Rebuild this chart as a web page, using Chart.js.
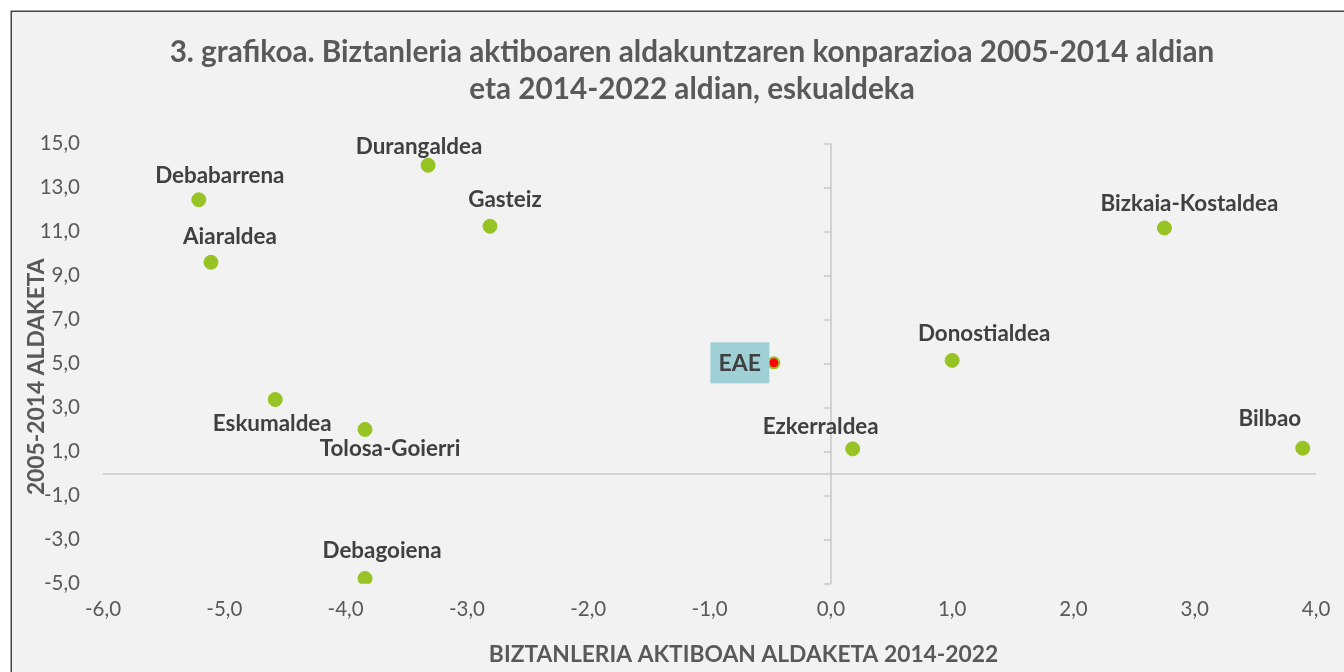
<!DOCTYPE html>
<html><head><meta charset="utf-8">
<script src="https://cdn.jsdelivr.net/npm/chart.js@4.4.0/dist/chart.umd.min.js"></script>
<style>html,body{margin:0;padding:0;background:#fff;overflow:hidden}#wrap{width:1344px;height:672px;position:relative}canvas{display:block}</style>
</head><body><div id="wrap"><canvas id="c" width="1344" height="672"></canvas></div>
<script>
// ---- data ----
const regions = ['Debabarrena','Aiaraldea','Durangaldea','Gasteiz','Bizkaia-Kostaldea','Donostialdea','Ezkerraldea','Bilbao','Eskumaldea','Tolosa-Goierri','Debagoiena','EAE'];
const change2014_2022 = [-5.21,-5.11,-3.32,-2.81,2.75,1.00,0.18,3.89,-4.58,-3.84,-3.84,-0.47];
const change2005_2014 = [12.45,9.61,14.02,11.25,11.17,5.15,1.13,1.16,3.37,2.01,-4.76,5.04];
const xTickLabels = ['-6,0','-5,0','-4,0','-3,0','-2,0','-1,0','0,0','1,0','2,0','3,0','4,0'];
const yTickLabels = ['-5,0','-3,0','-1,0','1,0','3,0','5,0','7,0','9,0','11,0','13,0','15,0'];
const titleLines = ['3. grafikoa. Biztanleria aktiboaren aldakuntzaren konparazioa 2005-2014 aldian','eta 2014-2022 aldian, eskualdeka'];
const xTitle = 'BIZTANLERIA AKTIBOAN ALDAKETA 2014-2022';
const yTitle = '2005-2014 ALDAKETA';
const totalLabel = 'EAE';

// ---- label placement (pixel offsets from each point) ----
const labelOffsets = [[21,-24],[19,-26],[-9,-18],[15,-26],[25,-24],[32,-27],[-32,-22],[-33,-29],[-3,24],[25,19],[17,-28],[-34,0]];

const FONT = 'Lato';
const GREEN = '#97C424';
const points = regions.map((r,i)=>({x:change2014_2022[i], y:change2005_2014[i]}));

const bgPlugin = {
  id:'bg',
  beforeDraw(chart){
    const ctx = chart.ctx, W = chart.width, H = chart.height;
    ctx.save();
    ctx.fillStyle = '#ffffff'; ctx.fillRect(0,0,W,H);
    ctx.fillStyle = '#f2f2f2'; ctx.fillRect(11,11,W,H);
    ctx.strokeStyle = '#444444'; ctx.lineWidth = 1.5;
    ctx.beginPath(); ctx.moveTo(11.25,H); ctx.lineTo(11.25,11.25); ctx.lineTo(W,11.25); ctx.stroke();
    ctx.restore();
  }
};

const shiftPlugin = {
  id:'shift',
  afterLayout(chart){
    const ctx = chart.ctx;
    const patch = (obj, fn, dx, dy) => {
      if (!obj || obj['__p_'+fn]) return;
      const orig = obj[fn];
      obj[fn] = function(...a){ ctx.save(); ctx.translate(dx,dy); orig.apply(this,a); ctx.restore(); };
      obj['__p_'+fn] = true;
    };
    patch(chart.titleBlock, 'draw', 31, 0);
    patch(chart.scales.x, 'drawTitle', 34, 0);
    patch(chart.scales.y, 'drawTitle', 0, 13);
  }
};

const axisLinesPlugin = {
  id:'axisLines',
  beforeDatasetsDraw(chart){
    const ctx = chart.ctx, xs = chart.scales.x, ys = chart.scales.y, a = chart.chartArea;
    const x0 = Math.round(xs.getPixelForValue(0));
    const y0 = Math.round(ys.getPixelForValue(0));
    ctx.save();
    ctx.strokeStyle = '#c8c8c8'; ctx.lineWidth = 1.5;
    ctx.beginPath(); ctx.moveTo(a.left, y0); ctx.lineTo(a.right, y0); ctx.stroke();
    ctx.beginPath(); ctx.moveTo(x0, a.top); ctx.lineTo(x0, a.bottom); ctx.stroke();
    ys.ticks.forEach(t=>{
      const y = Math.round(ys.getPixelForValue(t.value));
      ctx.beginPath(); ctx.moveTo(x0-7,y); ctx.lineTo(x0,y); ctx.stroke();
    });
    ctx.restore();
  }
};

const labelPlugin = {
  id:'pointLabels',
  afterDatasetsDraw(chart){
    const ctx = chart.ctx, meta = chart.getDatasetMeta(0);
    ctx.save();
    ctx.textAlign = 'center'; ctx.textBaseline = 'middle';
    meta.data.forEach((el,i)=>{
      const [dx,dy] = labelOffsets[i];
      const x = el.x + dx, y = el.y + dy;
      if (regions[i] === totalLabel){
        ctx.fillStyle = '#9fd0d6';
        ctx.fillRect(x-29.5, y-20.5, 59, 41);
        ctx.fillStyle = '#404040';
        ctx.font = 'bold 23px ' + FONT;
        ctx.fillText(regions[i], x, y+1);
      } else {
        ctx.fillStyle = '#404040';
        ctx.font = 'bold 22.4px ' + FONT;
        ctx.fillText(regions[i], x, y);
      }
    });
    ctx.restore();
  }
};

new Chart(document.getElementById('c'), {
  type:'scatter',
  data:{
    datasets:[{
      label:'Eskualdeak',
      data:points,
      pointRadius: regions.map(r => r===totalLabel ? 5.5 : 7),
      pointHoverRadius: regions.map(r => r===totalLabel ? 5.5 : 7),
      pointBackgroundColor: regions.map(r => r===totalLabel ? '#ff0000' : GREEN),
      pointBorderColor: GREEN,
      pointBorderWidth: regions.map(r => r===totalLabel ? 2 : 1)
    }]
  },
  options:{
    responsive:false,
    animation:false,
    devicePixelRatio:1,
    layout:{padding:{top:11,left:0,right:22,bottom:0}},
    plugins:{
      legend:{display:false},
      tooltip:{enabled:false},
      title:{
        display:true,
        text:titleLines,
        color:'#595959',
        font:{family:FONT,size:29.7,weight:'bold',lineHeight:1.246},
        padding:{top:22.5,bottom:36.2}
      }
    },
    scales:{
      x:{
        type:'linear', position:'bottom',
        min:-6, max:4,
        afterFit(s){ s.height = 88.3; },
        ticks:{stepSize:1, padding:13.7, color:'#595959', font:{family:FONT,size:20.5},
          callback:(v)=> xTickLabels[Math.round(v+6)]},
        grid:{display:false, drawTicks:false},
        border:{display:false},
        title:{display:true, text:xTitle, color:'#595959', font:{family:FONT,size:22.8,weight:'bold',lineHeight:1.2}, padding:{top:0,bottom:3.3}}
      },
      y:{
        type:'linear', position:'left',
        min:-5, max:15,
        afterFit(s){ s.width = 103; },
        ticks:{stepSize:2, padding:23, color:'#595959', font:{family:FONT,size:20.5},
          callback:(v)=> yTickLabels[Math.round((v+5)/2)]},
        grid:{display:false, drawTicks:false},
        border:{display:false},
        title:{display:true, text:yTitle, color:'#595959', font:{family:FONT,size:22.8,weight:'bold',lineHeight:1.2}, padding:{top:23.3,bottom:0}}
      }
    }
  },
  plugins:[bgPlugin, shiftPlugin, axisLinesPlugin, labelPlugin]
});
</script>
</body></html>
